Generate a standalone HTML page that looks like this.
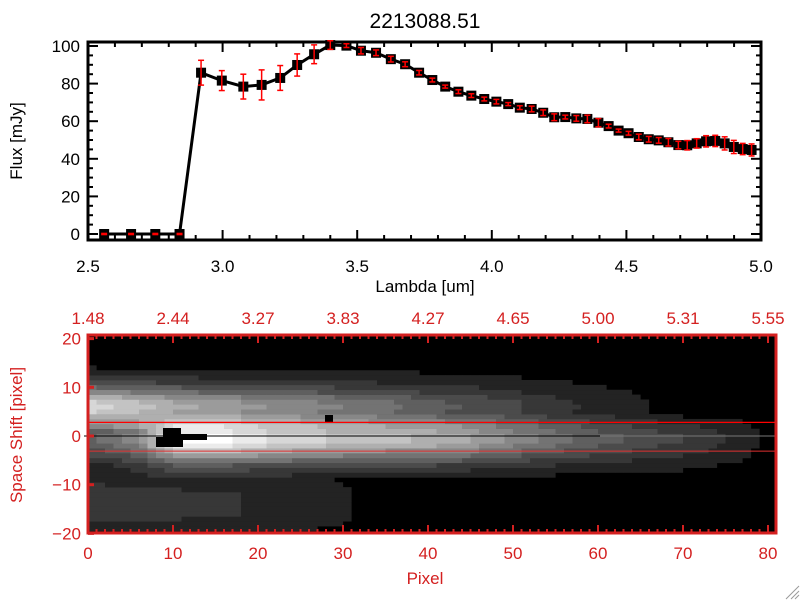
<!DOCTYPE html>
<html><head><meta charset="utf-8"><style>
html,body{margin:0;padding:0;background:#fff;}
svg{display:block;font-family:"Liberation Sans",sans-serif;}
</style></head><body>
<svg id="c" width="800" height="600" xmlns="http://www.w3.org/2000/svg"></svg>
<script>
// ---- spectrum data ----
const lambda=[2.56,2.66,2.75,2.84,2.92,2.997,3.077,3.145,3.214,3.277,3.34,3.40,3.46,3.514,3.57,3.625,3.678,3.73,3.779,3.827,3.876,3.924,3.972,4.017,4.061,4.104,4.148,4.191,4.232,4.273,4.314,4.355,4.396,4.434,4.471,4.508,4.546,4.583,4.62,4.656,4.693,4.726,4.761,4.796,4.83,4.865,4.899,4.932,4.965];
const flux=[0,0,0,0,85.8,81.6,78.4,79.3,83,89.9,95.6,100.5,100.2,97.5,96.4,93,90.3,85.8,81.9,78.4,75.7,73.6,71.8,70.4,69.1,67.2,66.5,64.5,62.1,62.2,61.5,61.2,59.2,57.4,55,53.6,51.6,50.4,49.8,48.8,47.3,47.2,48.2,49.3,49.5,48.2,46.3,45.2,44.7];
const fluxErr=[0.3,0.3,0.3,0.3,6.6,5.3,6.6,8,6.6,5.9,5,2.3,1,1.7,1.5,1.5,1.3,1.2,1,0.8,1,1,1,1.2,0.8,1,1.5,1.5,1.8,1,1.5,2,2.2,1,0.8,1,1.5,1.5,1.5,2,2,2.5,2.5,3,3,3.5,3.5,3,3.2];
const xTicks=["2.5","3.0","3.5","4.0","4.5","5.0"];
const yTicks=["0","20","40","60","80","100"];
// ---- image data ----
const pixTicks=["0","10","20","30","40","50","60","70","80"];
const topTicks=["1.48","2.44","3.27","3.83","4.27","4.65","5.00","5.31","5.55"];
const shiftTicks=["-20","-10","0","10","20"];
const colUpper=[0.85,0.75,0.65,0.6,0.55,0.5,0.45,0.4,0.32,0.28,0.22,0.15,0.1,0.05,0,0,0];
const colLower=[0.35,0.5,1.0,1.0,0.88,0.82,0.76,0.72,0.7,0.62,0.5,0.4,0.32,0.25,0.2,0.12,0];
const colWing=[0.16,0.15,0.14,0.13,0.12,0.1,0.05,0,0,0,0,0,0,0,0,0,0];
const rowUpper=[0,0,0,0,0,0,0,0,0,0,0,0,0,0,0,0,0,0,0,0,0,0,0.3,0.5,0.75,0.95,1,0.95,0.8,0.6,0.45,0.3,0.2,0.12,0.05,0,0,0,0,0,0];
const rowLower=[0,0,0,0,0,0,0,0,0,0,0,0,0.1,0.2,0.3,0.45,0.6,0.75,0.9,1,1,0.9,0.7,0.45,0.2,0,0,0,0,0,0,0,0,0,0,0,0,0,0,0,0];
const rowWing=[0.2,0.5,0.7,0.9,1,1,1,1,1,0.9,0.8,0.6,0.4,0.2,0,0,0,0,0,0,0,0,0,0,0,0,0,0,0,0,0,0,0,0,0,0,0,0,0,0,0];

const NS="http://www.w3.org/2000/svg";
const svgEl=document.getElementById('c');
function mk(t,a,p){const e=document.createElementNS(NS,t);for(const k in a)e.setAttribute(k,a[k]);(p||svgEl).appendChild(e);return e;}
const RED="#d42020";

// ---- top plot ----
const L=88,R=761,T=42,B=240;
const lx=v=>L+(v-2.5)/2.5*(R-L);
const ly=v=>234-v*1.88;
const topG=mk('g',{});


const tt=mk('text',{x:425,y:28,'font-size':21,'text-anchor':'middle',fill:'#000'});
tt.textContent='2213088.51';


for(let k=0;k<=25;k++){const v=2.5+k*0.1;const x=lx(v);const h=(k%5==0)?10:5;
 mk('line',{x1:x,x2:x,y1:B,y2:B-h,stroke:'#000','stroke-width':2},topG);mk('line',{x1:x,x2:x,y1:T,y2:T+h,stroke:'#000','stroke-width':2},topG);}
xTicks.forEach(s=>{const e=mk('text',{x:lx(+s),y:272,'font-size':17,'text-anchor':'middle'},topG);e.textContent=s;
 
 });
for(let v=0;v<=100;v+=5){const y=ly(v);const h=v%20==0?10:5;
 mk('line',{x1:L,x2:L+h,y1:y,y2:y,stroke:'#000','stroke-width':2},topG);mk('line',{x1:R,x2:R-h,y1:y,y2:y,stroke:'#000','stroke-width':2},topG);}
yTicks.forEach(s=>{const e=mk('text',{x:80,y:ly(+s)+6,'font-size':17,'text-anchor':'end'},topG);e.textContent=s;
 
 });
mk('rect',{x:L,y:T,width:R-L,height:B-T,fill:'none',stroke:'#000','stroke-width':3},topG);
const xl=mk('text',{x:425,y:292,'font-size':17,'text-anchor':'middle'});xl.textContent='Lambda [um]';


const yl=mk('text',{x:0,y:0,'font-size':17,'text-anchor':'middle',transform:'translate(22,141) rotate(-90)'});yl.textContent='Flux [mJy]';


const pts=lambda.map((l,i)=>lx(l)+','+ly(flux[i])).join(' ');
const line=mk('polyline',{points:pts,fill:'none',stroke:'#000','stroke-width':3},topG);


lambda.forEach((l,i)=>{const x=lx(l),y=ly(flux[i]);
 const m=mk('rect',{x:x-5,y:y-5,width:10,height:10,fill:'#000'},topG);
 
 
 const y1=ly(flux[i]+fluxErr[i]),y2=ly(flux[i]-fluxErr[i]);
 const g=mk('g',{stroke:'#f00','stroke-width':1.5},topG);
 
 
 mk('line',{x1:x,x2:x,y1:y1,y2:y2},g);mk('line',{x1:x-3,x2:x+3,y1:y1,y2:y1},g);mk('line',{x1:x-3,x2:x+3,y1:y2,y2:y2},g);
});

// ---- bottom image ----
const BL=88,BR=776,BT=335,BB=533;
const px=v=>BL+v*8.5;
const py=v=>436-v*4.87;
const botG=mk('g',{});


mk('rect',{x:BL,y:BT,width:BR-BL,height:BB-BT,fill:'#000'},botG);
function interp(arr,c){const f=c/5,i=Math.floor(f),t=f-i;const a=arr[Math.min(i,16)],b=arr[Math.min(i+1,16)];return a+(b-a)*t;}
for(let c=0;c<81;c++){for(let r=0;r<41;r++){
 const s=r-20;
 let v=interp(colUpper,c)*rowUpper[r]+interp(colLower,c)*rowLower[r]+interp(colWing,c)*rowWing[r];
 v=Math.min(1,v);v=Math.round(v*12)/12;if(v<0.08)continue;
 const g=Math.round(15+v*240);
 const y0=Math.max(BT,py(s+0.5)),y1=Math.min(BB,py(s-0.5));
 mk('rect',{x:px(c),y:y0,width:8.6,height:y1-y0+0.3,fill:`rgb(${g},${g},${g})`},botG);
}}
mk('polygon',{points:'156,437 163,437 163,428 181,428 181,434 207,434 207,440 183,440 183,447 156,447',fill:'#000'},botG);
mk('rect',{x:325,y:415,width:8,height:7,fill:'#000'},botG);
const l1=mk('line',{x1:BL,x2:BR,y1:py(2.8),y2:py(2.8),stroke:'#f00','stroke-width':1.2},botG);


const l2=mk('line',{x1:BL,x2:BR,y1:py(-3.1),y2:py(-3.1),stroke:'#e03030','stroke-width':1},botG);


const l0=mk('line',{x1:BL-4,x2:600,y1:436,y2:436,stroke:'#000','stroke-width':1},botG);


mk('line',{x1:600,x2:BR,y1:436,y2:436,stroke:'#777','stroke-width':1},botG);
for(let v=0;v<=81;v++){const x=px(v);const h=v%10==0?8:4;
 mk('line',{x1:x,x2:x,y1:BB,y2:BB-h,stroke:RED,'stroke-width':2},botG);mk('line',{x1:x,x2:x,y1:BT,y2:BT+h,stroke:RED,'stroke-width':2},botG);}
for(let v=-20;v<=20;v+=10){const y=py(v);mk('line',{x1:BL,x2:BL+6,y1:y,y2:y,stroke:RED,'stroke-width':3},botG);}
mk('rect',{x:BL,y:BT,width:BR-BL,height:BB-BT,fill:'none',stroke:RED,'stroke-width':3},botG);
pixTicks.forEach(s=>{const e=mk('text',{x:px(+s),y:559,'font-size':17,'text-anchor':'middle',fill:RED},botG);e.textContent=s;
 
 });
topTicks.forEach((s,i)=>{const e=mk('text',{x:px(i*10),y:324,'font-size':17,'text-anchor':'middle',fill:RED},botG);e.textContent=s;
 
 });
shiftTicks.forEach(s=>{const e=mk('text',{x:81,y:py(+s)+6,'font-size':17,'text-anchor':'end',fill:RED},botG);e.textContent=s.replace('-','\u2212');
 
 });
const pl=mk('text',{x:425,y:584,'font-size':17,'text-anchor':'middle',fill:RED});pl.textContent='Pixel';


const sl=mk('text',{x:0,y:0,'font-size':17,'text-anchor':'middle',fill:RED,transform:'translate(22,435) rotate(-90)'});sl.textContent='Space Shift [pixel]';


const grip=mk('g',{stroke:'#999','stroke-width':1});


mk('line',{x1:786,y1:599,x2:799,y2:586},grip);mk('line',{x1:791,y1:599,x2:799,y2:591},grip);mk('line',{x1:795,y1:599,x2:799,y2:595},grip);
</script>
</body></html>
